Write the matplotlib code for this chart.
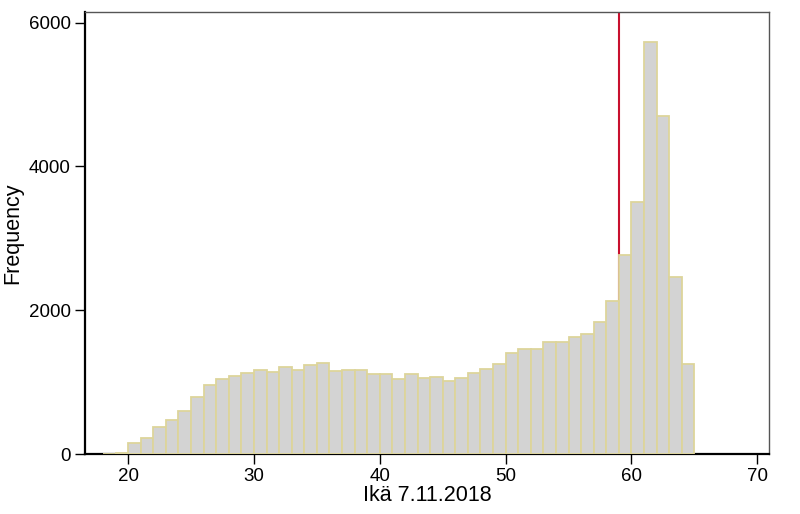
import matplotlib.pyplot as plt
import numpy as np

plt.rcParams['font.family'] = ['Liberation Sans', 'DejaVu Sans']

# age bins (left edges, width 1) and counts
ages = np.arange(18, 65)
counts = [3, 20, 150, 227, 380, 469, 598, 793, 960, 1043,
          1081, 1123, 1164, 1141, 1215, 1168, 1242, 1270, 1155, 1168,
          1168, 1113, 1113, 1038, 1113, 1052, 1075, 1015, 1052, 1127,
          1182, 1250, 1401, 1465, 1465, 1553, 1553, 1627, 1673, 1832,
          2124, 2772, 3510, 5731, 4697, 2462, 1252]
cutoff = 59

fig = plt.figure(figsize=(8, 5.14), dpi=100)
ax = fig.add_axes([0.106, 0.1167, 0.8556, 0.86])

ax.axvline(cutoff, color='#c8102e', lw=1.5, zorder=2)
ax.bar(ages, counts, width=1, align='edge', color='#d3d3d3',
       edgecolor='#ddd59b', linewidth=1.3, zorder=3)

ax.set_xlim(16.56, 70.95)
ax.set_ylim(0, 6148)
ax.set_xticks([20, 30, 40, 50, 60, 70])
ax.set_yticks([0, 2000, 4000, 6000])
ax.tick_params(direction='out', length=7, width=1, labelsize=13.5,
               colors='black', pad=3)

for s in ['left', 'bottom']:
    ax.spines[s].set_color('black')
    ax.spines[s].set_linewidth(1.6)
for s in ['top', 'right']:
    ax.spines[s].set_color('#555555')
    ax.spines[s].set_linewidth(1.0)

ax.set_xlabel('Ikä 7.11.2018', fontsize=15.5, labelpad=0)
ax.set_ylabel('Frequency', fontsize=15.5, labelpad=4)

fig.savefig('out.png', dpi=100)
